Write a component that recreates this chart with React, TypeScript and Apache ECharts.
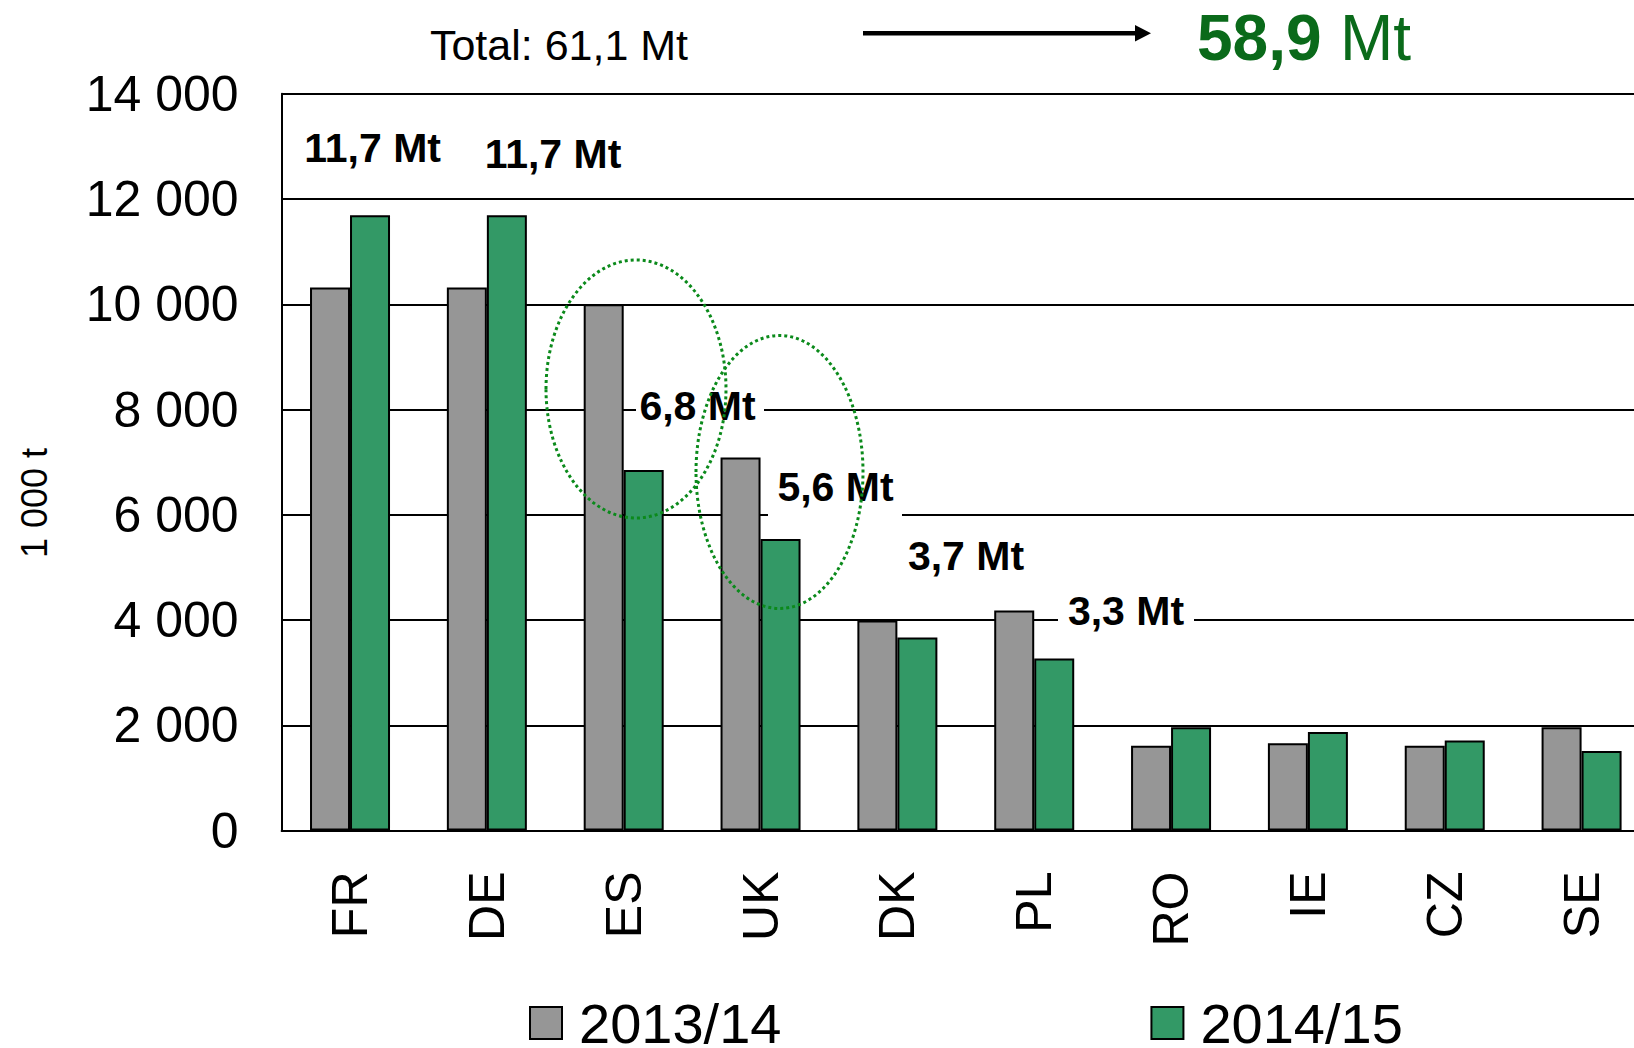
import React, { useEffect, useRef } from "react";
import * as echarts from "echarts";

const categories = ["FR", "DE", "ES", "UK", "DK", "PL", "RO", "IE", "CZ", "SE"];
const series2013 = [10320, 10320, 10000, 7090, 3990, 4180, 1610, 1660, 1610, 1960];
const series2014 = [11690, 11690, 6850, 5540, 3670, 3270, 1960, 1870, 1710, 1510];
const seriesNames = ["2013/14", "2014/15"];
const yTicks = { min: 0, max: 14000, interval: 2000 };
const countryLabels = ["11,7 Mt", "11,7 Mt", "6,8 Mt", "5,6 Mt", "3,7 Mt", "3,3 Mt"];
const totalBefore = "Total: 61,1 Mt";
const totalAfterNumber = "58,9";
const totalAfterUnit = "Mt";
const yAxisTitle = "1 000 t";

const FONT = "'Liberation Sans', Arial, Helvetica, sans-serif";

function fmt(v: number): string {
  return String(v).replace(/\B(?=(\d{3})+(?!\d))/g, " ");
}

export default function App() {
  const ref = useRef<HTMLDivElement>(null);
  useEffect(() => {
    if (!ref.current) return;
    const chart = echarts.init(ref.current, undefined, { renderer: "svg" });

    // annotation placements (pixel)
    const labelPos = [
      { x: 372.6, y: 148, box: null as null | number[] },
      { x: 553, y: 154, box: null },
      { x: 697.5, y: 406, box: [636, 390, 128, 34] },
      { x: 835.5, y: 487, box: [768, 468, 134, 52] },
      { x: 966, y: 556, box: null },
      { x: 1126, y: 611, box: [1058, 598, 136, 30] },
    ];
    const graphics: any[] = [];
    labelPos.forEach((p, i) => {
      if (p.box) {
        graphics.push({
          type: "rect",
          z: 5,
          shape: { x: p.box[0], y: p.box[1], width: p.box[2], height: p.box[3] },
          style: { fill: "#ffffff" },
        });
      }
      graphics.push({
        type: "text",
        z: 6,
        x: p.x,
        y: p.y,
        style: {
          text: countryLabels[i],
          fontFamily: FONT,
          fontSize: 41,
          fontWeight: "bold",
          fill: "#000",
          align: "center",
          verticalAlign: "middle",
        },
      });
    });
    graphics.push(
      {
        type: "ellipse",
        z: 8,
        shape: { cx: 636, cy: 389, rx: 90, ry: 129 },
        style: { fill: "none", stroke: "#0b8a1b", lineWidth: 3, lineDash: [3, 3] },
      },
      {
        type: "ellipse",
        z: 8,
        shape: { cx: 779.5, cy: 472, rx: 83.5, ry: 136.5 },
        style: { fill: "none", stroke: "#0b8a1b", lineWidth: 3, lineDash: [3, 3] },
      },
      {
        type: "text",
        z: 6,
        x: 559,
        y: 44.5,
        style: {
          text: totalBefore,
          fontFamily: FONT,
          fontSize: 43,
          fill: "#000",
          align: "center",
          verticalAlign: "middle",
        },
      },
      {
        type: "line",
        z: 6,
        shape: { x1: 863, y1: 33.3, x2: 1138, y2: 33.3 },
        style: { stroke: "#000", lineWidth: 4.5 },
      },
      {
        type: "polygon",
        z: 6,
        shape: { points: [[1135, 25], [1151, 33.3], [1135, 41.6]] },
        style: { fill: "#000" },
      },
      {
        type: "text",
        z: 6,
        x: 1197,
        y: 38,
        style: {
          text: totalAfterNumber,
          fontFamily: FONT,
          fontSize: 64,
          fontWeight: "bold",
          fill: "#0a6a1a",
          align: "left",
          verticalAlign: "middle",
        },
      },
      {
        type: "text",
        z: 6,
        x: 1340,
        y: 38,
        style: {
          text: totalAfterUnit,
          fontFamily: FONT,
          fontSize: 64,
          fill: "#0a6a1a",
          align: "left",
          verticalAlign: "middle",
        },
      },
      {
        type: "text",
        z: 6,
        x: 34.5,
        y: 503,
        rotation: Math.PI / 2,
        style: {
          text: yAxisTitle,
          fontFamily: FONT,
          fontSize: 36,
          fill: "#000",
          align: "center",
          verticalAlign: "middle",
        },
      }
    );

    chart.setOption({
      animation: false,
      backgroundColor: "#ffffff",
      textStyle: { fontFamily: FONT },
      grid: { left: 281.6, right: 0, top: 93.8, bottom: 217.5, containLabel: false },
      legend: {
        data: seriesNames,
        left: 529,
        top: 995,
        padding: 0,
        itemWidth: 32,
        itemHeight: 32,
        itemGap: 369,
        icon: "rect",
        textStyle: { fontSize: 56, lineHeight: 46, color: "#000", fontFamily: FONT, padding: [0, 0, 0, 12] },
      },
      xAxis: {
        type: "category",
        data: categories,
        axisLine: { lineStyle: { color: "#000", width: 2 } },
        axisTick: { show: false },
        axisLabel: { rotate: 90, margin: 41, fontSize: 50, color: "#000", fontFamily: FONT },
      },
      yAxis: {
        type: "value",
        min: yTicks.min,
        max: yTicks.max,
        interval: yTicks.interval,
        axisLine: { show: true, lineStyle: { color: "#000", width: 2 } },
        axisTick: { show: false },
        splitLine: { lineStyle: { color: "#000", width: 2 } },
        axisLabel: { margin: 43, fontSize: 50, color: "#000", fontFamily: FONT, formatter: (v: number) => fmt(v) },
      },
      series: [
        {
          name: seriesNames[0],
          type: "bar",
          data: series2013,
          barWidth: 40,
          barGap: "0%",
          itemStyle: { color: "#969696", borderColor: "#000", borderWidth: 2 },
        },
        {
          name: seriesNames[1],
          type: "bar",
          data: series2014,
          barWidth: 40,
          barGap: "0%",
          itemStyle: { color: "#339966", borderColor: "#000", borderWidth: 2 },
        },
      ],
      graphic: graphics,
    });
    return () => chart.dispose();
  }, []);
  return (
    <div style={{ position: "absolute", left: 0, top: 0, width: 1634, height: 1048, overflow: "hidden", background: "#fff" }}>
      <div ref={ref} style={{ position: "absolute", left: 0, top: 0, width: 1650, height: 1048 }} />
    </div>
  );
}
